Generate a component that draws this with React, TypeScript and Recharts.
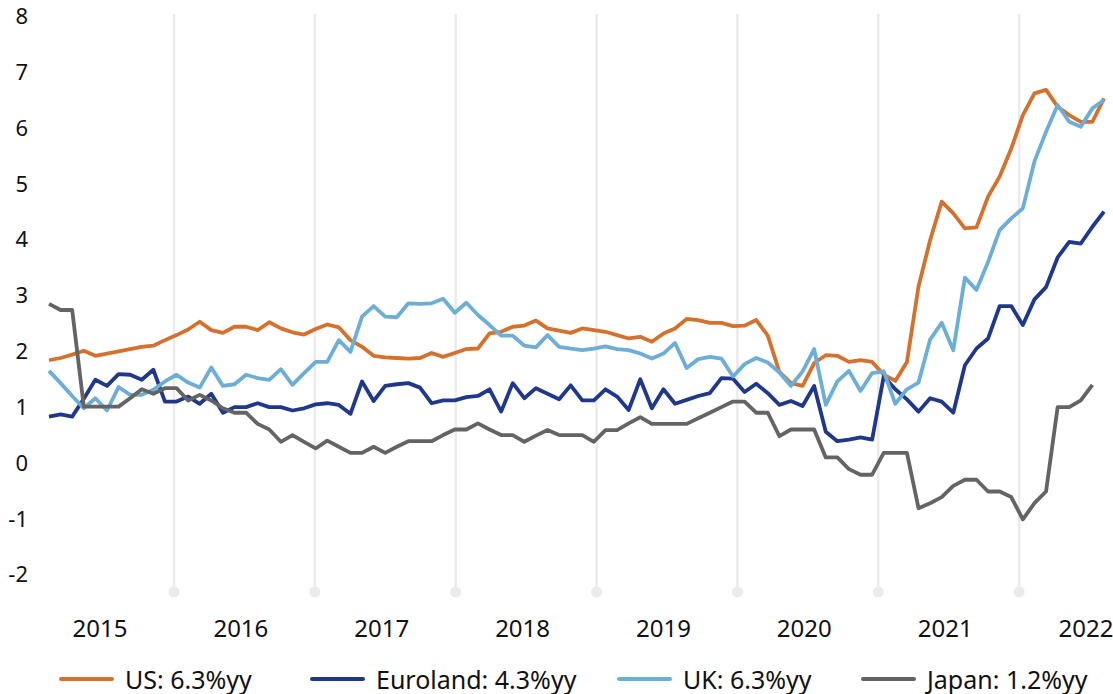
import { LineChart, Line, XAxis, YAxis, ReferenceLine, ReferenceDot, Legend } from 'recharts';

// monthly core inflation, %yy, Feb 2015 .. Sep 2022 (index 0..91)
const US = [
  1.84, 1.88, 1.94, 2.01, 1.92, 1.96, 2.0, 2.04, 2.08, 2.1, 2.2, 2.29,
  2.39, 2.53, 2.38, 2.33, 2.44, 2.44, 2.38, 2.52, 2.41, 2.34, 2.3, 2.4,
  2.48, 2.43, 2.2, 2.08, 1.92, 1.89, 1.88, 1.87, 1.88, 1.97, 1.9, 1.97,
  2.04, 2.05, 2.32, 2.35, 2.44, 2.46, 2.55, 2.41, 2.37, 2.33, 2.41, 2.38,
  2.35, 2.29, 2.23, 2.26, 2.17, 2.32, 2.41, 2.58, 2.56, 2.51, 2.51, 2.45,
  2.46, 2.56, 2.28, 1.63, 1.43, 1.38, 1.79, 1.93, 1.92, 1.81, 1.84, 1.81,
  1.58, 1.47, 1.81, 3.16, 3.99, 4.68, 4.47, 4.2, 4.22, 4.77, 5.13, 5.63,
  6.23, 6.62, 6.68, 6.38, 6.23, 6.11, 6.11, 6.53,
];
const EUROLAND = [
  0.83, 0.87, 0.83, 1.15, 1.49, 1.38, 1.59, 1.58, 1.49, 1.67, 1.1, 1.1,
  1.19, 1.06, 1.24, 0.9, 1.0, 1.0, 1.07, 1.0, 1.0, 0.94, 0.98, 1.05,
  1.07, 1.04, 0.88, 1.46, 1.11, 1.38, 1.41, 1.43, 1.35, 1.07, 1.12, 1.12,
  1.18, 1.2, 1.32, 0.92, 1.43, 1.16, 1.34, 1.24, 1.14, 1.39, 1.12, 1.12,
  1.32, 1.19, 0.95, 1.5, 0.98, 1.32, 1.06, 1.13, 1.2, 1.25, 1.52, 1.51,
  1.27, 1.42, 1.25, 1.04, 1.11, 1.02, 1.38, 0.56, 0.39, 0.42, 0.46, 0.42,
  1.55, 1.32, 1.14, 0.92, 1.16, 1.1, 0.9, 1.75, 2.05, 2.23, 2.81, 2.81,
  2.47, 2.93, 3.15, 3.68, 3.96, 3.93, 4.23, 4.5,
];
const UK = [
  1.65, 1.43, 1.2, 0.98, 1.16, 0.94, 1.36, 1.22, 1.22, 1.31, 1.46, 1.58,
  1.44, 1.35, 1.71, 1.38, 1.41, 1.58, 1.52, 1.49, 1.68, 1.4, 1.61, 1.81,
  1.81, 2.2, 1.99, 2.62, 2.81, 2.62, 2.61, 2.86, 2.85, 2.86, 2.94, 2.69,
  2.87, 2.65, 2.47, 2.28, 2.28, 2.1, 2.07, 2.29, 2.08, 2.05, 2.02, 2.05,
  2.09, 2.04, 2.02, 1.96, 1.87, 1.96, 2.15, 1.7, 1.86, 1.9, 1.87, 1.55,
  1.77, 1.88, 1.8, 1.62, 1.38, 1.64, 2.04, 1.04, 1.46, 1.65, 1.29, 1.61,
  1.64, 1.06, 1.32, 1.44, 2.21, 2.51, 2.02, 3.32, 3.1, 3.6, 4.17, 4.38,
  4.56, 5.4, 5.93, 6.41, 6.11, 6.02, 6.35, 6.5,
];
const JAPAN = [
  2.85, 2.74, 2.74, 1.01, 1.01, 1.01, 1.01, 1.16, 1.32, 1.24, 1.34, 1.34,
  1.12, 1.22, 1.12, 0.98, 0.9, 0.9, 0.7, 0.6, 0.38, 0.5, 0.38, 0.26,
  0.4, 0.29, 0.18, 0.18, 0.29, 0.18, 0.29, 0.39, 0.39, 0.39, 0.5, 0.6,
  0.6, 0.71, 0.6, 0.5, 0.5, 0.38, 0.49, 0.59, 0.5, 0.5, 0.5, 0.38,
  0.59, 0.59, 0.71, 0.82, 0.7, 0.7, 0.7, 0.7, 0.8, 0.9, 1.0, 1.1,
  1.1, 0.9, 0.9, 0.48, 0.6, 0.6, 0.6, 0.1, 0.1, -0.11, -0.21, -0.21,
  0.18, 0.18, 0.18, -0.81, -0.72, -0.61, -0.41, -0.3, -0.3, -0.51, -0.51, -0.61,
  -1.01, -0.72, -0.51, 1.0, 1.0, 1.12, 1.4, null,
];

const YEARS = [2015, 2016, 2017, 2018, 2019, 2020, 2021, 2022];
const Y_TICKS = [-2, -1, 0, 1, 2, 3, 4, 5, 6, 7, 8];

const SERIES = [
  { key: 'us', name: 'US: 6.3%yy', color: '#d6702d' },
  { key: 'eu', name: 'Euroland: 4.3%yy', color: '#1f388c' },
  { key: 'uk', name: 'UK: 6.3%yy', color: '#6caed6' },
  { key: 'jp', name: 'Japan: 1.2%yy', color: '#646464' },
];

// year boundaries / year label positions in month-index units
const GRID0 = 10.78;
const LABEL0 = 4.4;
const YEAR_STEP = 12.15;
const Y_MIN = -2.31;
const Y_MAX = 8.04;

const data = US.map((v, i) => ({ i, us: v, eu: EUROLAND[i], uk: UK[i], jp: JAPAN[i] }));
const yearTicks = YEARS.map((_, n) => LABEL0 + n * YEAR_STEP);
const yearLines = YEARS.slice(1).map((_, n) => GRID0 + n * YEAR_STEP);

const LEGEND_X = [59, 310, 617, 861];

const renderLegend = () => (
  <div style={{ position: 'relative', height: 44, width: 1100 }}>
    {SERIES.map((s, n) => (
      <div
        key={s.key}
        style={{
          position: 'absolute', left: LEGEND_X[n], top: 16,
          display: 'flex', alignItems: 'center', whiteSpace: 'nowrap',
        }}
      >
        <span style={{ display: 'inline-block', width: 55, height: 4.5, borderRadius: 3, background: s.color, marginRight: 11 }} />
        <span style={{ fontSize: 25, color: '#111', lineHeight: '26px' }}>{s.name}</span>
      </div>
    ))}
  </div>
);

export default function App() {
  return (
    <div style={{ position: 'absolute', left: 0, top: 0, width: 1113, height: 694, background: '#fff', fontFamily: '"Noto Sans", sans-serif' }}>
      <LineChart width={1113} height={694} data={data} margin={{ top: 14, right: 9, bottom: 0, left: 0 }}>
        <XAxis
          dataKey="i"
          type="number"
          domain={[0, 91]}
          ticks={yearTicks}
          interval={0}
          tickFormatter={(_v: number, idx: number) => String(YEARS[idx])}
          axisLine={false}
          tickLine={false}
          tickSize={0}
          tickMargin={28}
          height={58}
          tick={{ fontSize: 24, fill: '#111' }}
        />
        <YAxis
          type="number"
          domain={[Y_MIN, Y_MAX]}
          ticks={Y_TICKS}
          interval={0}
          allowDataOverflow
          axisLine={false}
          tickLine={false}
          tickSize={0}
          tickMargin={21}
          width={49}
          tick={{ fontSize: 22, fill: '#111' }}
        />
        {yearLines.map((g) => (
          <ReferenceLine key={`l${g}`} x={g} stroke="#ebebeb" strokeWidth={2.5} />
        ))}
        {yearLines.map((g) => (
          <ReferenceDot key={`d${g}`} x={g} y={Y_MIN} r={5.5} fill="#ebebeb" stroke="none" ifOverflow="visible" />
        ))}
        <Legend verticalAlign="bottom" content={renderLegend} />
        {SERIES.map((s) => (
          <Line
            key={s.key}
            dataKey={s.key}
            name={s.name}
            stroke={s.color}
            strokeWidth={3.8}
            strokeLinejoin="round"
            dot={false}
            activeDot={false}
            isAnimationActive={false}
          />
        ))}
      </LineChart>
    </div>
  );
}
